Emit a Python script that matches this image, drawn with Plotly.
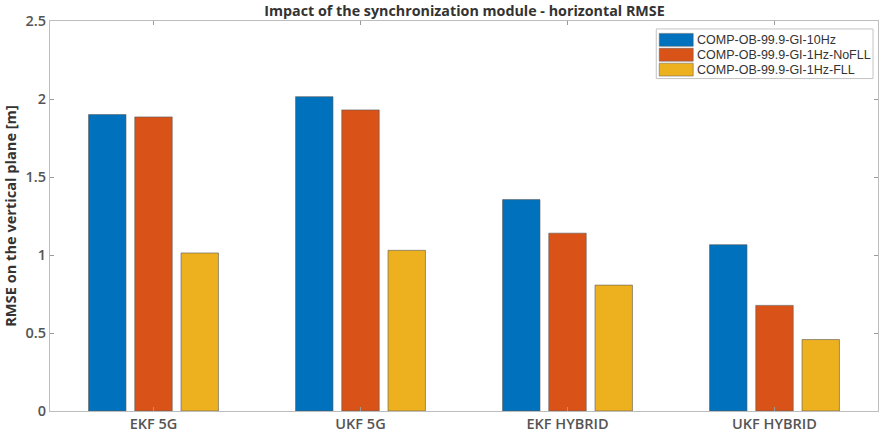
import plotly.graph_objects as go

categories = ["EKF 5G", "UKF 5G", "EKF HYBRID", "UKF HYBRID"]
series_names = ["COMP-OB-99.9-GI-10Hz", "COMP-OB-99.9-GI-1Hz-NoFLL", "COMP-OB-99.9-GI-1Hz-FLL"]
vals_10hz = [1.90, 2.015, 1.355, 1.066]
vals_nofll = [1.885, 1.93, 1.14, 0.677]
vals_fll = [1.013, 1.03, 0.807, 0.458]
colors = ["#0072BD", "#D95319", "#EDB120"]
y_ticks = [0, 0.5, 1, 1.5, 2, 2.5]
y_ticklabels = ["0", "0.5", "1", "1.5", "2", "2.5"]

W, H = 885, 439
ML, MR, MT, MB = 50, 6, 21, 25
PW, PH = W - ML - MR, H - MT - MB


def px_x(x):
    return (x - ML) / PW


def px_y(y):
    return (H - MB - y) / PH


fig = go.Figure()
for name, vals, col in zip(series_names, [vals_10hz, vals_nofll, vals_fll], colors):
    fig.add_trace(go.Bar(
        x=categories, y=vals, name=name, showlegend=False,
        marker=dict(color=col, line=dict(color="rgba(90,90,90,0.6)", width=1)),
    ))

axis_common = dict(showline=True, linecolor="#BDBDBD", linewidth=1, mirror="ticks",
                   ticks="inside", tickcolor="#9A9A9A", ticklen=4, showgrid=False, zeroline=False)
tick_font = dict(family="Open Sans", size=14.5, color="#555555", weight=600)

# custom legend (box with wide swatches, as in the original)
shapes = [dict(type="rect", xref="paper", yref="paper",
               x0=px_x(657), x1=px_x(874), y0=px_y(79), y1=px_y(29),
               line=dict(color="#C4C4C4", width=1), fillcolor="white", layer="above")]
annotations = []
row_centers = [40, 55, 70]
for name, col, yc in zip(series_names, colors, row_centers):
    shapes.append(dict(type="rect", xref="paper", yref="paper",
                       x0=px_x(660), x1=px_x(694), y0=px_y(yc + 6.5), y1=px_y(yc - 6.5),
                       line=dict(color="rgba(90,90,90,0.5)", width=1), fillcolor=col, layer="above"))
    annotations.append(dict(text=name, xref="paper", yref="paper", x=px_x(696), y=px_y(yc),
                            xanchor="left", yanchor="middle", showarrow=False,
                            font=dict(family="Liberation Sans", size=12.5, color="#333333")))

fig.update_layout(
    width=W, height=H,
    margin=dict(l=ML, r=MR, t=MT, b=MB),
    plot_bgcolor="white", paper_bgcolor="white",
    barmode="group", bargap=0.33, bargroupgap=0.19,
    title=dict(text="<b>Impact of the synchronization module - horizontal RMSE</b>",
               x=(ML + W - MR) / 2 / W, xanchor="center", y=1 - 11 / H, yanchor="middle",
               font=dict(family="Open Sans", size=14.3, color="#333333")),
    xaxis=dict(**axis_common, range=[-0.5, 3.5], tickfont=tick_font),
    yaxis=dict(**axis_common, range=[0, 2.5], tickvals=y_ticks, ticktext=y_ticklabels,
               tickfont=tick_font,
               title=dict(text="<b>RMSE on the vertical plane [m]</b>", standoff=5,
                          font=dict(family="Open Sans", size=14.6, color="#333333"))),
    shapes=shapes,
    annotations=annotations,
    showlegend=False,
)

fig.write_html("out.html", config={"displayModeBar": False},
               post_script="document.body.style.margin='0';")
